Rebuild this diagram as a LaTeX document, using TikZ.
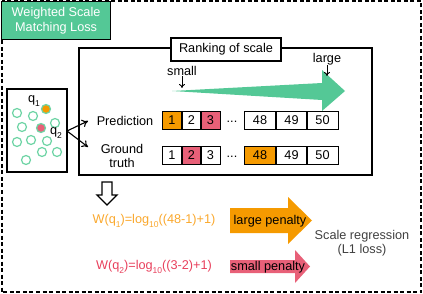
\documentclass[tikz,border=0pt]{standalone}
\usepackage{fontspec}
\setmainfont{Liberation Sans}
\usetikzlibrary{arrows.meta}
\definecolor{mint}{RGB}{84,200,150}
\definecolor{ring}{RGB}{110,212,165}
\definecolor{orfill}{RGB}{245,154,0}
\definecolor{pkfill}{RGB}{232,96,120}
\definecolor{ortext}{RGB}{250,168,45}
\definecolor{rdtext}{RGB}{232,64,92}
\newcommand\mysub[1]{\raisebox{-0.28em}{\fontsize{8.5}{9}\selectfont #1}}
\begin{document}
\begin{tikzpicture}[x=1pt,y=-1pt,
  txt/.style={font=\fontsize{12.7}{14.5}\selectfont, inner sep=0pt, align=center},
  cell/.style={draw, line width=1.3pt, minimum height=17.5pt, inner sep=0pt, outer sep=0pt, font=\fontsize{12.7}{14}\selectfont},
  smallcell/.style={cell, minimum width=19.3pt},
  bigcell/.style={cell, minimum width=31.3pt},
  pt/.style={circle, draw=ring, line width=1.2pt, minimum size=9pt, inner sep=0pt},
  thinarrow/.style={-{To[length=4pt,width=6pt]}, line width=0.9pt},
  forkarrow/.style={-{To[length=6pt,width=8pt]}, line width=1.1pt}
]
\useasboundingbox (0,0) rectangle (423,294);
% outer dashed frame
\draw[line width=2pt, dash pattern=on 4pt off 2.5pt] (1.5,1.5) rectangle (421,292);
% title box
\node[draw, fill=mint, line width=1.6pt, minimum width=109pt, minimum height=38pt, anchor=north west, inner sep=0pt, text=white, txt] (title) at (0.8,0.8) {Weighted Scale\\Matching Loss};
% ranking box
\draw[line width=1.5pt] (79,48) rectangle (372,175);
\node[draw, fill=white, line width=1.4pt, minimum width=110pt, minimum height=23pt, inner sep=0pt, txt] (rank) at (226,49.5) {Ranking of scale};
% green wedge arrow
\fill[mint] (172,91) -- (322,83) -- (322,70) -- (345,91) -- (322,111) -- (322,100) -- cycle;
\node[txt] (small) at (182,71) {small};
\node[txt] (large) at (327,59) {large};
\coordinate (smallend) at (182,88);
\coordinate (largeend) at (327,76);
\draw[thinarrow] (small.south) -- (smallend);
\draw[thinarrow] (large.south) -- (largeend);
% rows
\node[txt, anchor=center] (pred) at (125,121) {Prediction};
\node[txt, anchor=center] (gt) at (122,156) {Ground\\truth};
\node[smallcell, fill=orfill] (p1) at (172,120.5) {1};
\node[smallcell] (p2) at (191.5,120.5) {2};
\node[smallcell, fill=pkfill] (p3) at (210.5,120.5) {3};
\node[txt] (pd) at (232,122) {...};
\node[bigcell] (p48) at (260,120.5) {48};
\node[bigcell] (p49) at (291.5,120.5) {49};
\node[bigcell] (p50) at (322.5,120.5) {50};
\node[smallcell] (g1) at (172,155.5) {1};
\node[smallcell, fill=pkfill] (g2) at (191.5,155.5) {2};
\node[smallcell] (g3) at (210.5,155.5) {3};
\node[txt] (gd) at (232,157) {...};
\node[bigcell, fill=orfill] (g48) at (260,155.5) {48};
\node[bigcell] (g49) at (291.5,155.5) {49};
\node[bigcell] (g50) at (322.5,155.5) {50};
% points box
\draw[line width=1.5pt] (7,89) rectangle (67,172);
\node[pt, draw=ring, fill=orfill] (q1) at (46,109) {};
\node[pt, draw=ring, fill=pkfill] (q2) at (41,128) {};
\node[pt] (c1) at (17,113) {};
\node[pt] (c2) at (33,116) {};
\node[pt] (c3) at (22,127) {};
\node[pt] (c4) at (55,123) {};
\node[pt] (c5) at (17,142) {};
\node[pt] (c6) at (31,140) {};
\node[pt] (c7) at (47,141) {};
\node[pt] (c8) at (42,152) {};
\node[pt] (c9) at (57,152) {};
\node[pt] (c10) at (26,160) {};
\node[txt] (q1l) at (34,101) {q\mysub{1}};
\node[txt] (q2l) at (56,133) {q\mysub{2}};
\coordinate (fork) at (67,131);
\coordinate (toPred) at (88,121);
\coordinate (toGT) at (88,147);
\draw[forkarrow] (fork) -- (toPred);
\draw[forkarrow] (fork) -- (toGT);
% hollow down arrow
\draw[fill=white, line width=1.3pt] (102,182) -- (112,182) -- (112,195) -- (117,195) -- (107,205) -- (97,195) -- (102,195) -- cycle;
% formulas
\node[txt, text=ortext] (w1) at (154,221) {W(q\mysub{1})=log\mysub{10}((48-1)+1)};
\node[txt, text=rdtext] (w2) at (154,267) {W(q\mysub{2})=log\mysub{10}((3-2)+1)};
% penalty arrows
\fill[orfill] (230,208) -- (288,208) -- (288,197) -- (312,220.5) -- (288,244) -- (288,233) -- (230,233) -- cycle;
\node[txt] (lp) at (270,221) {large penalty};
\fill[pkfill] (230,260) -- (295,260) -- (295,250) -- (310,266.5) -- (295,283) -- (295,273) -- (230,273) -- cycle;
\node[txt] (sp) at (268,267) {small penalty};
% scale regression
\node[txt, text=black!75] (sr) at (362,243) {Scale regression\\(L1 loss)};
\end{tikzpicture}
\end{document}
